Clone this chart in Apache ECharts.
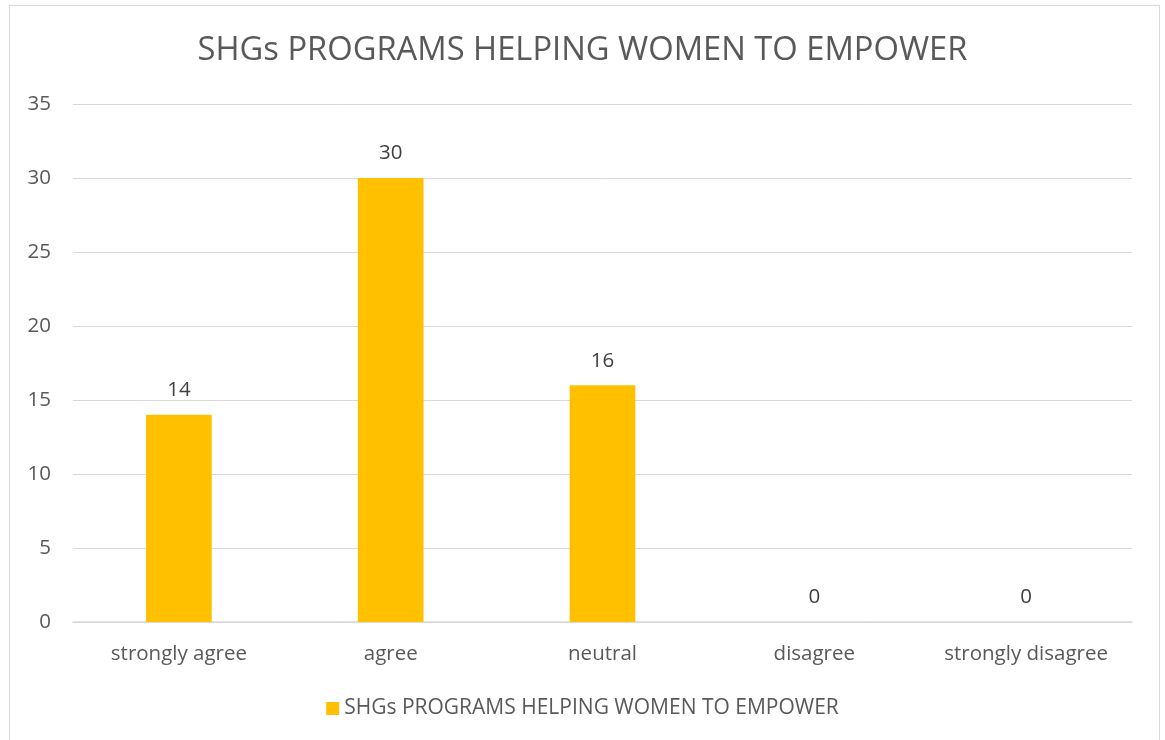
<!DOCTYPE html>
<html>
<head>
<meta charset="utf-8">
<script src="https://cdn.jsdelivr.net/npm/echarts@6/dist/echarts.min.js"></script>
<style>
  html, body { margin: 0; padding: 0; background: #fff; }
  #frame { position: absolute; left: 9px; top: 5px; width: 1151px; height: 740px; border: 1px solid #d9d9d9; box-sizing: border-box; }
  #chart { position: absolute; left: 0; top: 0; width: 1165px; height: 740px; }
</style>
</head>
<body>
<div id="frame"></div>
<div id="chart"></div>
<script>
// Survey responses
const categories = ['strongly agree', 'agree', 'neutral', 'disagree', 'strongly disagree'];
const responses = [14, 30, 16, 0, 0];
const seriesName = 'SHGs PROGRAMS HELPING WOMEN TO EMPOWER';
const chartTitle = 'SHGs PROGRAMS HELPING WOMEN TO EMPOWER';

const FONT = '"Open Sans", sans-serif';
const chart = echarts.init(document.getElementById('chart'), null, { renderer: 'canvas' });
chart.setOption({
  backgroundColor: 'transparent',
  animation: false,
  title: {
    text: chartTitle,
    left: 'center',
    top: 29,
    textStyle: { fontFamily: FONT, fontSize: 32.7, fontWeight: 'normal', color: '#595959' }
  },
  legend: {
    data: [seriesName],
    bottom: 16,
    left: 'center',
    icon: 'rect',
    itemWidth: 13,
    itemHeight: 13,
    itemGap: 5,
    textStyle: { fontFamily: FONT, fontSize: 21, color: '#595959' }
  },
  grid: { left: 73, right: 33, top: 104, bottom: 118, containLabel: false },
  xAxis: {
    type: 'category',
    data: categories,
    axisLine: { lineStyle: { color: '#d9d9d9', width: 1.5 } },
    axisTick: { show: false },
    axisLabel: { interval: 0, fontFamily: FONT, fontSize: 20.5, color: '#595959', margin: 22 }
  },
  yAxis: {
    type: 'value',
    min: 0,
    max: 35,
    interval: 5,
    axisLine: { show: false },
    axisTick: { show: false },
    splitLine: { lineStyle: { color: '#d9d9d9', width: 1 } },
    axisLabel: { fontFamily: FONT, fontSize: 20.5, color: '#595959', margin: 22 }
  },
  series: [{
    name: seriesName,
    type: 'bar',
    data: responses,
    barWidth: '31%',
    itemStyle: { color: '#FFC000' },
    label: {
      show: true,
      position: 'top',
      distance: 14,
      fontFamily: FONT,
      fontSize: 20.5,
      color: '#404040'
    }
  }]
});
</script>
</body>
</html>
